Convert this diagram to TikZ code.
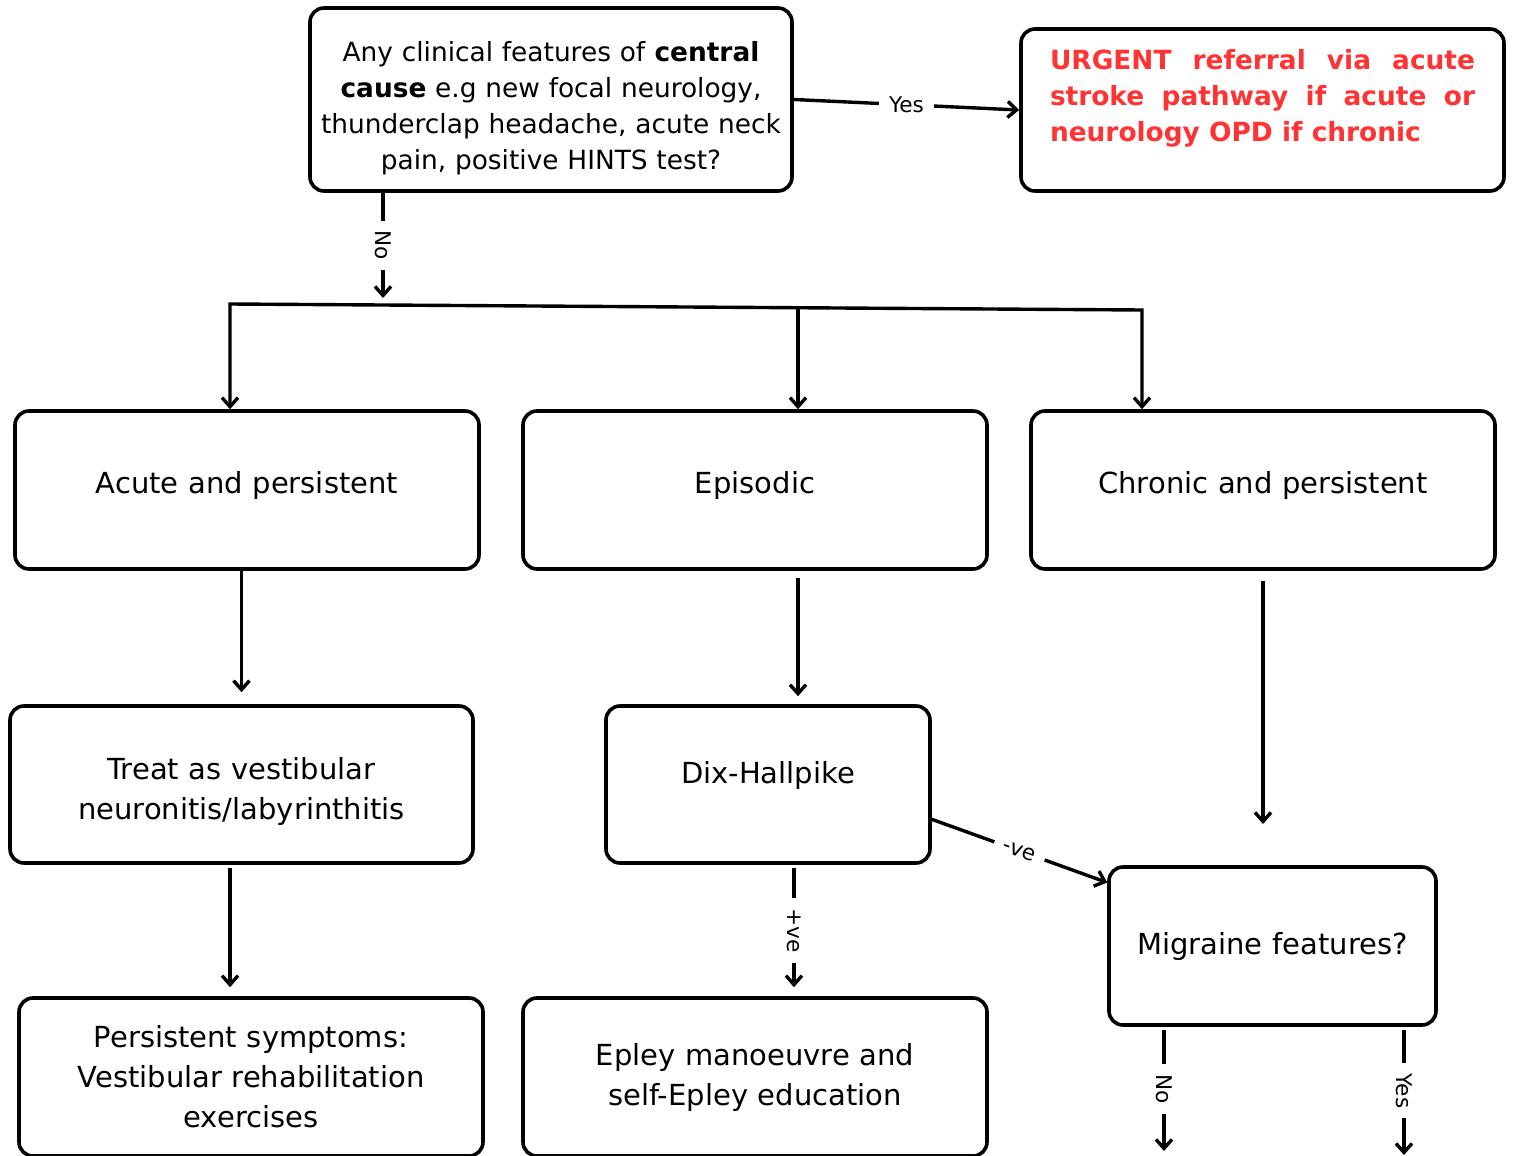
\documentclass[tikz,border=0pt]{standalone}
\usepackage{fontspec}
\setmainfont{DejaVu Sans}
\usepackage{xcolor}
\usetikzlibrary{arrows.meta}
\definecolor{urgentred}{RGB}{255,51,51}

\begin{document}
\begin{tikzpicture}[x=0.5pt,y=-0.5pt,
    >={Straight Barb[length=4.5pt,width=8pt]},
    box/.style={draw, line width=1.8pt, rounded corners=7pt, inner sep=0pt,
      align=center, text width=220pt, font=\fontsize{14.5pt}{20pt}\selectfont,
      minimum width=232pt, minimum height=79pt},
    conn/.style={line width=1.7pt, ->},
    lbl/.style={fill=white, inner sep=5pt, font=\fontsize{10.8pt}{12pt}\selectfont}]
  \useasboundingbox (0,0) rectangle (1528,1156);

  % question and urgent referral
  \node[box, minimum width=241pt, minimum height=91.5pt, text width=236pt,
        font=\fontsize{13.2pt}{18pt}\selectfont] (q) at (551,99.5)
    {\rule{0pt}{19pt}Any clinical features of \textbf{central}\\ \textbf{cause} e.g new focal neurology,\\
     thunderclap headache, acute neck\\ pain, positive HINTS test?};
  \node[box, minimum width=241.5pt, minimum height=81pt, text width=212.5pt, align=justify,
        text=urgentred, font=\bfseries\fontsize{13.2pt}{18pt}\selectfont] (urgent) at (1262.5,110)
    {\hyphenpenalty=10000 \tolerance=10000
     URGENT referral via acute stroke pathway if acute or neurology OPD if chronic\par\kern12pt};

  % three presentations
  \node[box] (acute) at (247,490) {Acute and persistent\par\kern5pt};
  \node[box] (epi) at (755,490) {Episodic\par\kern5pt};
  \node[box] (chron) at (1263,490) {Chronic and persistent\par\kern5pt};

  \node[box, minimum width=231.5pt, minimum height=78.5pt] (treat) at (241.5,784.5)
    {\rule{0pt}{18pt}Treat as vestibular\\ neuronitis/labyrinthitis};
  \node[box, minimum width=162pt, minimum height=78.5pt, text width=150pt] (dix) at (768,784.5)
    {Dix-Hallpike\par\kern9.5pt};
  \node[box, minimum width=163.5pt, text width=150pt] (mig) at (1272.5,946)
    {Migraine features?};

  \node[box] (pers) at (251,1077) {Persistent symptoms:\\ Vestibular rehabilitation\\ exercises};
  \node[box] (epley) at (755,1077) {Epley manoeuvre and\\ self-Epley education};

  % branch points and free ends
  \coordinate (nobranch) at (383,298);
  \coordinate (brw) at (230,304);
  \coordinate (brm) at (798,308);
  \coordinate (bre) at (1142,310);
  \coordinate (mfree) at (1263,824);
  \coordinate (mno) at (1164,1151);
  \coordinate (myes) at (1404,1155);

  \draw[conn] (q.south -| nobranch) -- node[lbl, rotate=-90] {No} (nobranch);
  \draw[conn] (q.east) -- node[lbl] {Yes} (urgent.west);
  \draw[conn, <->] (brw |- acute.north) -- (brw) -- (bre) -- (bre |- chron.north);
  \draw[conn] (brm) -- (brm |- epi.north);

  \draw[conn, shorten >=6pt] (acute.south -| treat) -- (treat.north);
  \draw[conn, shorten <=3.5pt, shorten >=4pt] (brm |- epi.south) -- (brm |- dix.north);
  \draw[conn, shorten <=5pt] (chron.south) -- (mfree);

  \draw[conn, shorten <=1.5pt, shorten >=4.5pt] (treat.south -| brw) -- (brw |- pers.north);
  \draw[conn, shorten <=1.5pt, shorten >=4.5pt] ([xshift=13pt]dix.south)
    -- node[lbl, rotate=-90] {+ve} ([xshift=13pt]dix.south |- epley.north);
  \draw[conn] (dix.-12) -- node[lbl, sloped] {-ve} (mig.159);

  \draw[conn, shorten <=1.5pt] (mig.south -| mno) -- node[lbl, rotate=-90] {No} (mno);
  \draw[conn, shorten <=1.5pt] (mig.south -| myes) -- node[lbl, rotate=-90] {Yes} (myes);
\end{tikzpicture}
\end{document}
